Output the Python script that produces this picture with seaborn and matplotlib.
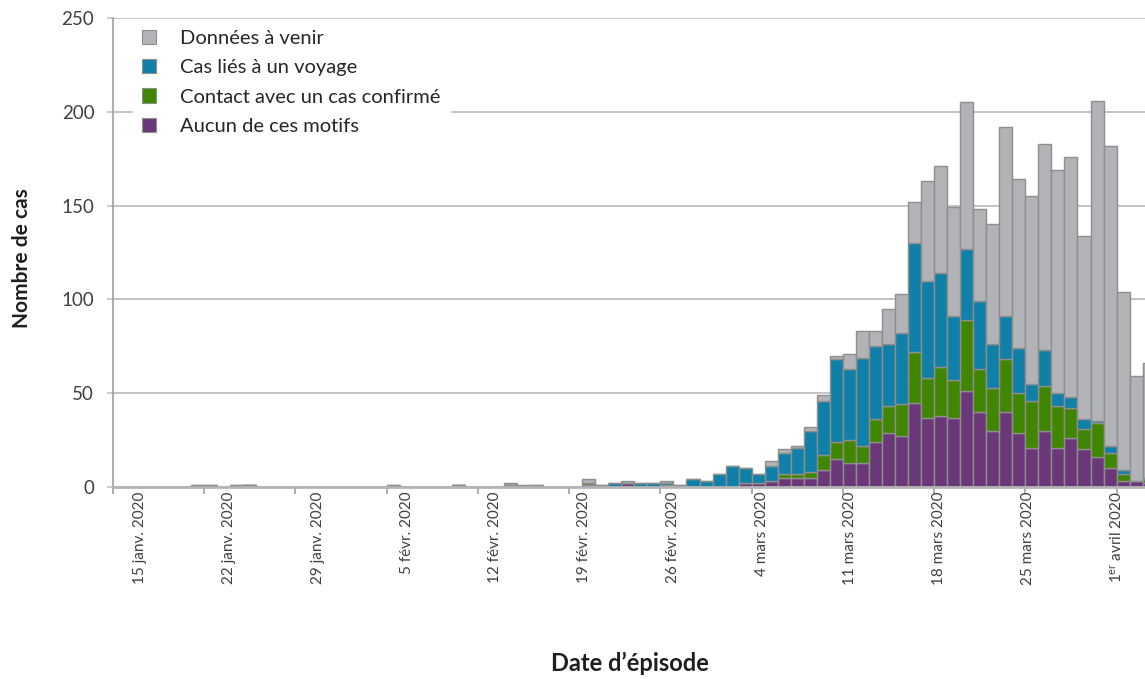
import numpy as np
import pandas as pd
import matplotlib
matplotlib.use("Agg")
import matplotlib.pyplot as plt
import seaborn as sns
from matplotlib.patches import Patch

# ---------------- data ----------------
categories = ["Données à venir", "Cas liés à un voyage",
              "Contact avec un cas confirmé", "Aucun de ces motifs"]
colors = ["#B1B3B7", "#1080A8", "#408600", "#6A3878"]

# one value per day, from 15 janv. 2020 (day 0) to 3 avril 2020 (day 79)
aucun = [0, 0, 0, 0, 0, 0, 0, 0, 0, 0,
         1, 0, 0, 0, 0, 0, 0, 0, 0, 0,
         0, 0, 0, 0, 0, 0, 1, 0, 0, 0,
         0, 0, 0, 0, 0, 0, 1, 0, 0, 2,
         0, 0, 0, 0, 0, 0, 0, 0, 2, 2,
         3, 5, 5, 5, 9, 15, 13, 13, 24, 29,
         27, 45, 37, 38, 37, 51, 40, 30, 40, 29,
         21, 30, 21, 26, 20, 16, 10, 3, 3, 2]
contact = [0, 0, 0, 0, 0, 0, 0, 0, 0, 0,
           0, 0, 0, 0, 0, 0, 0, 0, 0, 0,
           0, 0, 0, 0, 0, 0, 0, 0, 0, 0,
           0, 0, 0, 0, 0, 0, 1, 0, 0, 0,
           0, 0, 1, 0, 0, 0, 0, 0, 0, 0,
           0, 2, 2, 3, 8, 9, 12, 9, 12, 14,
           17, 27, 21, 26, 20, 38, 23, 23, 28, 21,
           25, 24, 22, 16, 11, 18, 8, 4, 0, 2]
voyage = [0, 0, 0, 0, 0, 0, 1, 1, 0, 1,
          0, 0, 0, 0, 0, 0, 0, 0, 0, 0,
          0, 1, 0, 0, 0, 0, 0, 0, 0, 0,
          1, 0, 1, 0, 0, 0, 0, 1, 2, 0,
          2, 2, 1, 1, 4, 3, 7, 11, 8, 5,
          8, 11, 14, 22, 29, 44, 38, 47, 39, 33,
          38, 58, 52, 50, 34, 38, 36, 23, 23, 24,
          9, 19, 7, 6, 5, 1, 4, 2, 0, 1]
venir = [0, 0, 0, 0, 0, 0, 0, 0, 0, 0,
         0, 0, 0, 0, 0, 0, 0, 0, 0, 0,
         0, 0, 0, 0, 0, 0, 0, 0, 0, 0,
         1, 1, 0, 0, 0, 0, 2, 0, 0, 1,
         0, 0, 1, 0, 0, 0, 0, 0, 0, 0,
         3, 2, 1, 2, 3, 2, 8, 14, 8, 19,
         21, 22, 53, 57, 58, 78, 49, 64, 101, 90,
         100, 110, 119, 128, 98, 171, 160, 95, 56, 61]

tick_labels = ["15 janv. 2020", "22 janv. 2020", "29 janv. 2020",
               "5 févr. 2020", "12 févr. 2020", "19 févr. 2020",
               "26 févr. 2020", "4 mars 2020", "11 mars 2020",
               "18 mars 2020", "25 mars 2020", r"1$^{\mathrm{er}}$ avril 2020"]
y_ticks = [0, 50, 100, 150, 200, 250]

# ---------------- styling ----------------
sns.set_theme(style="white")
FONT = "Lato"
plt.rcParams["font.family"] = [FONT, "DejaVu Sans"]
plt.rcParams["mathtext.fontset"] = "custom"
plt.rcParams["mathtext.rm"] = FONT
plt.rcParams["mathtext.it"] = FONT
plt.rcParams["mathtext.bf"] = FONT + ":bold"

GRID = "#BFBFBF"
TXT = "#404040"

n_days = len(aucun)
days = np.arange(n_days)
df = pd.DataFrame({
    "jour": np.tile(days, 4),
    "motif": np.repeat(categories, n_days),
    "cas": np.concatenate([venir, voyage, contact, aucun]),
})

W, H = 1145, 679
fig = plt.figure(figsize=(W / 100, H / 100), dpi=100)
ax = fig.add_axes([113 / W, 1 - 487 / H, (W - 113) / W, (487 - 18) / H])

sns.histplot(data=df, x="jour", weights="cas", hue="motif",
             hue_order=categories, multiple="stack", discrete=True,
             shrink=1.0, palette=dict(zip(categories, colors)),
             edgecolor="#8E8E8E", linewidth=1.0, alpha=1.0,
             legend=False, ax=ax, zorder=3)

ax.set_ylim(0, 250)
ax.set_xlim(-0.5, 78.68)
ax.set_yticks(y_ticks)
ax.set_yticklabels([str(v) for v in y_ticks])
ax.yaxis.grid(True, color=GRID, lw=1.3, zorder=0)
ax.xaxis.grid(False)
ax.set_axisbelow(True)
for s in ["top", "right"]:
    ax.spines[s].set_visible(False)
ax.spines["left"].set_color("#A0A0A0")
ax.spines["left"].set_linewidth(1.2)
ax.spines["bottom"].set_color("#B5B5B5")
ax.spines["bottom"].set_linewidth(2.0)
ax.spines["bottom"].set_zorder(4)

ax.tick_params(axis="y", which="major", direction="out", length=4.5,
               width=1.2, color=GRID, pad=9, labelsize=13.5, labelcolor=TXT,
               left=True)

# major x ticks at week boundaries (no label), labels on minor ticks
week_pos = [-0.5 + 7 * k for k in range(len(tick_labels))]
ax.set_xticks(week_pos)
ax.set_xticklabels([""] * len(week_pos))
ax.tick_params(axis="x", which="major", direction="out", length=5,
               width=1.2, color="#A0A0A0", bottom=True)
label_pos = [w + 2.1 - 0.19 * k for k, w in enumerate(week_pos)]
ax.set_xticks(label_pos, minor=True)
ax.set_xticklabels(tick_labels, minor=True, rotation=90, va="top",
                   ha="center")
ax.tick_params(axis="x", which="minor", length=0, pad=3, labelsize=11,
               labelcolor=TXT, bottom=True)
ax.set_xlabel("")
ax.set_ylabel("")

fig.text(22 / W, 1 - 258 / H, "Nombre de cas", rotation=90, ha="center",
         va="center", fontsize=15, fontweight="bold", color="#1F1F1F")
fig.text(630 / W, 1 - 663 / H, "Date d\u2019épisode", ha="center",
         va="center", fontsize=17, fontweight="bold", color="#1F1F1F")

handles = [Patch(facecolor=c, edgecolor="#8E8E8E", lw=0.8) for c in colors]
leg = ax.legend(handles, categories, loc="upper left",
                bbox_to_anchor=(133 / W, 1 - 21 / H),
                bbox_transform=fig.transFigure, frameon=True,
                facecolor="white", edgecolor="white", framealpha=1.0,
                fancybox=False, fontsize=14.5, handlelength=0.7,
                handleheight=0.7, handletextpad=1.2, labelspacing=0.6,
                borderpad=0.45, borderaxespad=0)
for t in leg.get_texts():
    t.set_color("#262626")
leg.set_zorder(10)

fig.savefig("out.png", dpi=100)
